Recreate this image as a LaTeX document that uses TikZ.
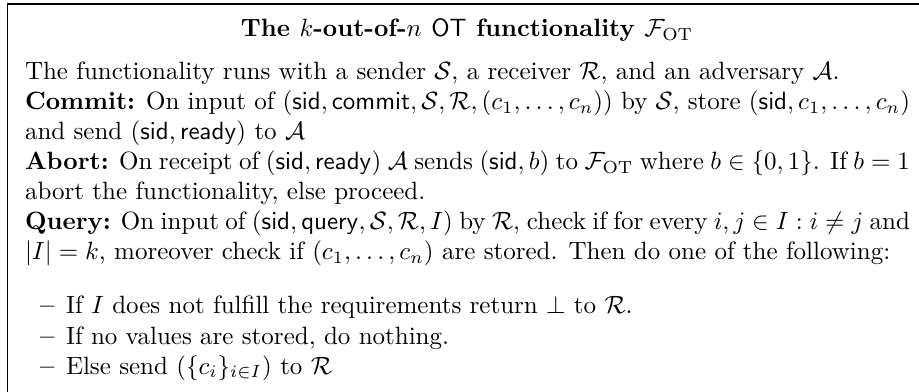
\documentclass[tikz,border=0pt]{standalone}
\usepackage{amssymb}
\tikzset{
  frameline/.style={line width=0.45pt, black},
  txt/.style={anchor=base west, inner sep=0pt, outer sep=0pt},
  ttl/.style={anchor=base, inner sep=0pt, outer sep=0pt, font=\bfseries}
}
\begin{document}
\begin{tikzpicture}[x=0.4pt,y=-0.4pt]
  \useasboundingbox (0,0) rectangle (919,392);
  \coordinate (bl) at (7.5,400);
  \coordinate (tl) at (7.5,4);
  \coordinate (tr) at (930,4);
  \draw[frameline] (bl) -- (tl) -- (tr);
  \node[ttl] (title) at (467,37) {The $k$-out-of-$n$ $\mathsf{OT}$ functionality $\mathcal{F}_{\mathrm{OT}}$};
  \node[txt] (body) at (25,80) {\parbox[t]{354pt}{\setlength{\parindent}{0pt}\setlength{\baselineskip}{12pt}%
    The functionality runs with a sender $\mathcal{S}$, a receiver $\mathcal{R}$, and an adversary $\mathcal{A}$.\par
    \textbf{Commit:} On input of $(\mathsf{sid},\mathsf{commit},\mathcal{S},\mathcal{R},(c_1,\dots,c_n))$ by $\mathcal{S}$, store $(\mathsf{sid},c_1,\dots,c_n)$\linebreak and send $(\mathsf{sid},\mathsf{ready})$ to $\mathcal{A}$\par
    \textbf{Abort:} On receipt of $(\mathsf{sid},\mathsf{ready})$ $\mathcal{A}$ sends $(\mathsf{sid},b)$ to $\mathcal{F}_{\mathrm{OT}}$ where $b\in\{0,1\}$. If $b=1$\linebreak abort the functionality, else proceed.\par
    \textbf{Query:} On input of $(\mathsf{sid},\mathsf{query},\mathcal{S},\mathcal{R},I)$ by $\mathcal{R}$, check if for every $i,j\in I: i\neq j$ and\linebreak $|I|=k$, moreover check if $(c_1,\dots,c_n)$ are stored. Then do one of the following:\par}};
  \node[txt] (d1) at (40,314) {\textbf{\textendash}};
  \node[txt] (i1) at (66,314) {If $I$ does not fulfill the requirements return $\bot$ to $\mathcal{R}$.};
  \node[txt] (d2) at (40,344) {\textbf{\textendash}};
  \node[txt] (i2) at (66,344) {If no values are stored, do nothing.};
  \node[txt] (d3) at (40,374) {\textbf{\textendash}};
  \node[txt] (i3) at (66,374) {Else send $(\{c_i\}_{i\in I})$ to $\mathcal{R}$};
\end{tikzpicture}
\end{document}
